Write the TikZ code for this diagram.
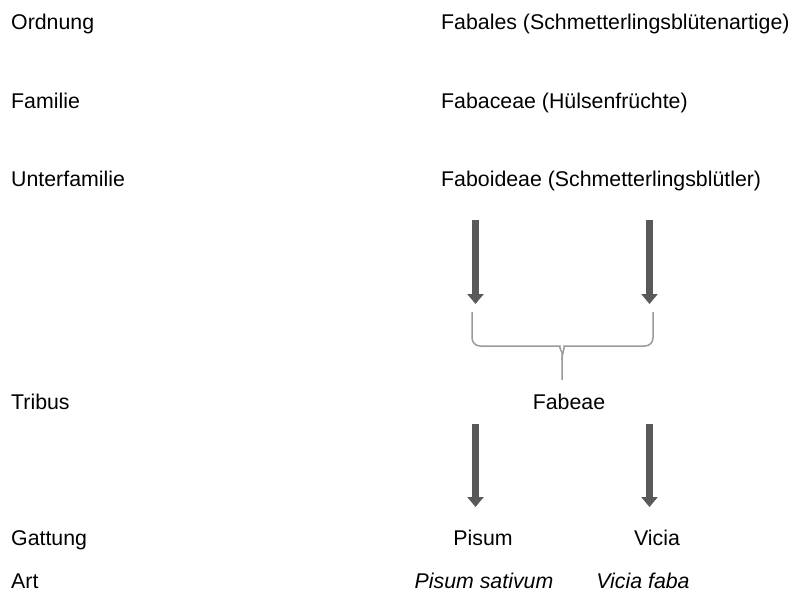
\documentclass[tikz,border=0pt]{standalone}
\usepackage{fontspec}
\setmainfont{Liberation Sans}
\usepackage{xcolor}
\usetikzlibrary{arrows.meta}

\definecolor{arrowgray}{HTML}{595959}
\definecolor{bracegray}{HTML}{9A9A9A}

\begin{document}
\begin{tikzpicture}[x=1bp, y=-1bp,
    font=\fontsize{21.4}{26}\selectfont,
    rank/.style={anchor=base west, inner sep=0pt},
    taxon/.style={anchor=base west, inner sep=0pt},
    genus/.style={anchor=base, inner sep=0pt},
    down/.style={draw=arrowgray, line width=7bp, -{Triangle[width=16bp,length=10bp]}},
    bracket/.style={draw=bracegray, line width=1.5bp, rounded corners=8bp}
]
\useasboundingbox (0,0) rectangle (797,591);

% Rangstufen
\node (ordnung) [rank] at (11,30) {Ordnung};
\node (familie) [rank] at (11,109) {Familie};
\node (unterfam) [rank] at (11,187) {Unterfamilie};
\node (tribus) [rank] at (11,409) {Tribus};
\node (gattung) [rank] at (11,545) {Gattung};
\node (art) [rank] at (11,588) {Art};

% Taxa
\node (fabales) [taxon] at (441,30) {Fabales (Schmetterlingsblütenartige)};
\node (fabaceae) [taxon] at (441,109) {Fabaceae (Hülsenfrüchte)};
\node (faboideae) [taxon] at (441,187) {Faboideae (Schmetterlingsblütler)};
\node (fabeae) [genus] at (569,409) {Fabeae};
\node (pisum) [genus] at (483,545) {Pisum};
\node (vicia) [genus] at (657,545) {Vicia};
\node (sativum) [genus] at (484,588) {\itshape Pisum sativum};
\node (faba) [genus] at (643,588) {\itshape Vicia faba};

% Pfeile
\coordinate (a1) at (475.5,220);
\coordinate (b1) at (475.5,304);
\coordinate (a2) at (649.5,220);
\coordinate (b2) at (649.5,304);
\coordinate (c1) at (475.5,424);
\coordinate (d1) at (475.5,507);
\coordinate (c2) at (649.5,424);
\coordinate (d2) at (649.5,507);

\draw [down] (a1) -- (b1);
\draw [down] (a2) -- (b2);
\draw [down] (c1) -- (d1);
\draw [down] (c2) -- (d2);

% Klammer
\coordinate (tip) at (562,380);
\draw [bracket] (472,312) -- (472,346) -- (552,346) to[out=0,in=90] (562,360) -- (tip);
\draw [bracket] (653,312) -- (653,346) -- (572,346) to[out=180,in=90] (562,360);

\end{tikzpicture}
\end{document}
